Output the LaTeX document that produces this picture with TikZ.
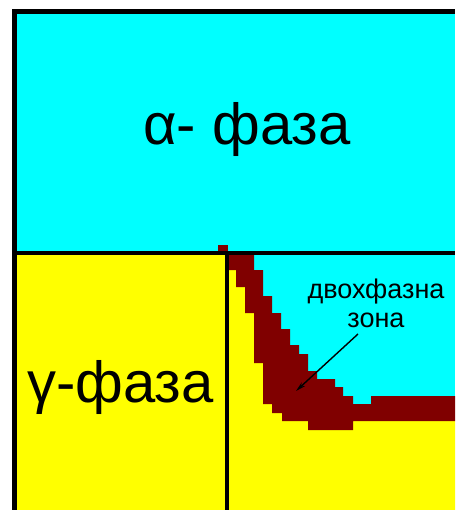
\documentclass[tikz,border=0pt]{standalone}
\usepackage{fontspec}
\setmainfont{Liberation Sans}
\usetikzlibrary{arrows.meta}
\definecolor{phcyan}{HTML}{00FFFF}
\definecolor{phyellow}{HTML}{FFFF00}
\definecolor{phmaroon}{HTML}{800000}
\begin{document}
\begin{tikzpicture}[x=1pt,y=-1pt,
  bigtext/.style={inner sep=0pt,font=\fontsize{58}{60}\selectfont},
  smalltext/.style={inner sep=0pt,align=center,font=\fontsize{27}{29}\selectfont},
  frameline/.style={line width=3.5pt,black},
  pointer/.style={line width=1.4pt,-{Stealth[length=10pt,width=5pt]}}]
\useasboundingbox (0,0) rectangle (455,510);
% outer black border (left and top)
\fill[black] (12,9) rectangle (455,510);
% alpha region
\fill[phcyan] (17,14) rectangle (455,252);
% lower regions
\fill[phyellow] (17,252) rectangle (455,510);
\fill[phcyan] (228,252) rectangle (455,430);
% yellow below two-phase zone
\fill[phyellow] (228,270) -- (236,270) -- (236,287) -- (245,287) -- (245,313) -- (254,313)
  -- (254,363) -- (263,363) -- (263,404) -- (272,404) -- (272,413) -- (282,413)
  -- (282,421) -- (308,421) -- (308,430) -- (353,430) -- (353,421) -- (455,421)
  -- (455,510) -- (228,510) -- cycle;
% two-phase zone
\fill[phmaroon] (228,253) -- (254,253) -- (254,270) -- (263,270) -- (263,296) -- (272,296)
  -- (272,313) -- (281,313) -- (281,329) -- (290,329) -- (290,345) -- (299,345)
  -- (299,354) -- (308,354) -- (308,371) -- (317,371) -- (317,379) -- (335,379)
  -- (335,387) -- (343,387) -- (343,396) -- (353,396) -- (353,404) -- (371,404)
  -- (371,396) -- (455,396) -- (455,421) -- (353,421) -- (353,430) -- (308,430)
  -- (308,421) -- (282,421) -- (282,413) -- (272,413) -- (272,404) -- (263,404)
  -- (263,363) -- (254,363) -- (254,313) -- (245,313) -- (245,287) -- (236,287)
  -- (236,270) -- (228,270) -- cycle;
\fill[phmaroon] (218,245) rectangle (228,253);
% dividing lines
\coordinate (hl) at (12,253);
\coordinate (hr) at (455,253);
\coordinate (vt) at (226.5,251.5);
\coordinate (vb) at (226.5,510);
\draw[frameline] (hl) -- (hr);
\draw[line width=4pt,black] (vt) -- (vb);
% labels
\node[bigtext,anchor=base] (alpha) at (247,145) {α- фаза};
\node[bigtext,anchor=base] (gamma) at (120.5,402) {γ-фаза};
\node[smalltext,anchor=base] (zone) at (376,327) {двохфазна\\зона};
\coordinate (astart) at (358,334);
\coordinate (atip) at (296,391);
\draw[pointer] (astart) -- (atip);
\end{tikzpicture}
\end{document}
